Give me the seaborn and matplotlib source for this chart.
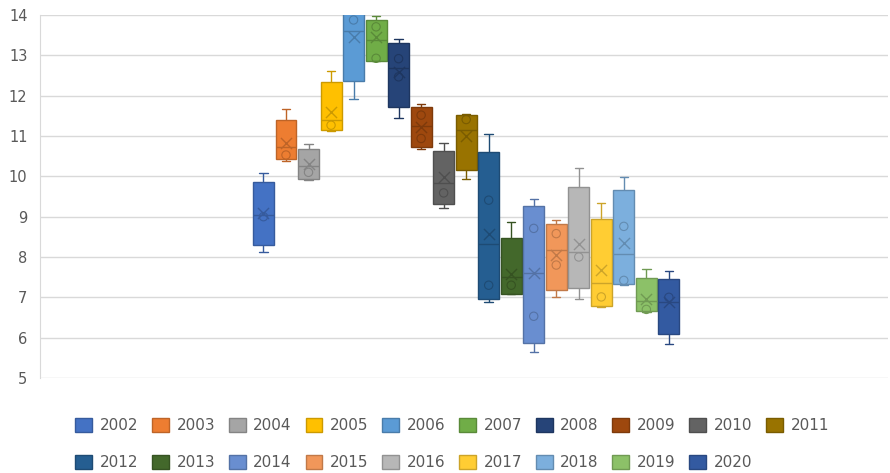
import numpy as np
import pandas as pd
import matplotlib
matplotlib.use('Agg')
import matplotlib.pyplot as plt
import matplotlib.colors as mcolors
from matplotlib.patches import Patch
import seaborn as sns

# Values (one box per year)
years = [str(y) for y in range(2002, 2021)]
whisker_low = [8.13, 10.38, 9.92, 11.13, 11.91, 12.85, 11.46, 10.67, 9.22, 9.93,
               6.89, 7.07, 5.65, 7.01, 6.95, 6.75, 7.30, 6.63, 5.84]
quart1 = [8.31, 10.42, 9.94, 11.15, 12.37, 12.87, 11.71, 10.72, 9.31, 10.17,
          6.97, 7.09, 5.87, 7.19, 7.24, 6.78, 7.34, 6.65, 6.08]
medians = [9.05, 10.73, 10.25, 11.39, 13.60, 13.38, 12.70, 11.25, 9.83, 11.16,
           8.32, 7.50, 7.60, 8.17, 8.13, 7.36, 8.07, 6.90, 6.88]
quart3 = [9.86, 11.41, 10.69, 12.35, 14.05, 13.89, 13.30, 11.71, 10.63, 11.52,
          10.61, 8.48, 9.26, 8.83, 9.74, 8.94, 9.66, 7.48, 7.45]
whisker_high = [10.09, 11.68, 10.80, 12.62, 14.30, 13.98, 13.40, 11.79, 10.83, 11.54,
                11.04, 8.87, 9.45, 8.93, 10.22, 9.35, 9.99, 7.70, 7.66]
means = [9.08, 10.82, 10.30, 11.60, 13.46, 13.46, 12.60, 11.23, 9.98, 11.00,
         8.58, 7.59, 7.61, 8.04, 8.33, 7.67, 8.35, 6.97, 6.89]
inner_points = [[9.0], [10.53], [10.1], [11.27], [13.88], [13.71, 12.93], [12.92, 12.47],
                [11.52, 10.94], [9.59], [11.41], [9.41, 7.30], [7.30], [8.71, 6.53],
                [8.58, 7.80], [8.00], [7.01], [8.76, 7.42], [6.70], [7.0]]

colors = ['#4472C4', '#ED7D31', '#A5A5A5', '#FFC000', '#5B9BD5', '#70AD47', '#264478',
          '#9E480E', '#636363', '#997300', '#255E91', '#43682B', '#698ED0', '#F1975A',
          '#B7B7B7', '#FFCD33', '#7CAFDD', '#8CC168', '#335AA1']


def darker(c, f=0.8):
    r, g, b = mcolors.to_rgb(c)
    return (r * f, g * f, b * f)


dark_colors = [darker(c) for c in colors]

# five values per year reproduce the box exactly (whiskers to min/max)
box_df = pd.DataFrame({
    'year': np.repeat(years, 5),
    'value': np.column_stack([whisker_low, quart1, medians, quart3, whisker_high]).ravel(),
})
mean_df = pd.DataFrame({'year': years, 'mean': means})
pts_df = pd.DataFrame([(y, v) for y, vals in zip(years, inner_points) for v in vals],
                      columns=['year', 'value'])

sns.set_style('white')
plt.rcParams['font.family'] = ['DejaVu Sans']

fig = plt.figure(figsize=(8.9, 4.73), dpi=100)
ax = fig.add_axes([0.045, 0.201, 0.953, 0.767])

sns.boxplot(data=box_df, x='year', y='value', hue='year', order=years, hue_order=years,
            palette=colors, saturation=1, dodge=False, width=0.93, whis=(0, 100),
            linewidth=1, showfliers=False, legend=False, ax=ax)

for cont in ax.containers:
    face = cont.boxes[0].get_facecolor()
    dk = darker(face)
    for b in cont.boxes:
        b.set_edgecolor(dk)
    for ln in list(cont.whiskers) + list(cont.caps) + list(cont.medians):
        ln.set_color(dk)
        ln.set_linewidth(1)
    # shorter caps, like the spreadsheet version
    for cap in cont.caps:
        xd = np.asarray(cap.get_xdata(), dtype=float)
        mid = xd.mean()
        half = (xd.max() - xd.min()) * 0.4
        cap.set_xdata([mid - half, mid + half])

# mean markers
sns.stripplot(data=mean_df, x='year', y='mean', hue='year', order=years, hue_order=years,
              palette=dark_colors, jitter=False, dodge=False, marker='x', size=8,
              linewidth=1, legend=False, ax=ax)

# inner points as hollow circles
n_before = len(ax.collections)
sns.stripplot(data=pts_df, x='year', y='value', hue='year', order=years, hue_order=years,
              palette=dark_colors, jitter=False, dodge=False, marker='o', size=6,
              linewidth=0.8, legend=False, ax=ax)
for coll in ax.collections[n_before:]:
    fc = coll.get_facecolors()
    coll.set_edgecolors(fc)
    coll.set_facecolors('none')

handles = [Patch(facecolor=c, edgecolor=darker(c)) for c in colors]

# order entries so the legend fills row by row (10 on top, 9 below)
order = []
for i in range(10):
    order.append(i)
    if i + 10 < len(handles):
        order.append(i + 10)
fig.legend([handles[i] for i in order], [years[i] for i in order],
           loc='upper center', bbox_to_anchor=(0.508, 0.146), ncol=10, frameon=False,
           fontsize=11, handlelength=1.1, handleheight=1.1, handletextpad=0.5,
           columnspacing=0.9, labelspacing=1.4, labelcolor='#595959')

ax.set_ylim(5, 14)
ax.set_xlim(-9.92, 27.74)
ax.set_yticks(range(5, 15))
ax.set_xticks([])
ax.set_xlabel('')
ax.set_ylabel('')
ax.yaxis.grid(True, color='#D9D9D9', linewidth=1)
ax.set_axisbelow(True)
ax.tick_params(axis='y', length=0, pad=9, labelsize=10.5, labelcolor='#595959')
for s in ['top', 'right', 'bottom']:
    ax.spines[s].set_visible(False)
ax.spines['left'].set_color('#D9D9D9')

fig.savefig('out.png', dpi=100)
